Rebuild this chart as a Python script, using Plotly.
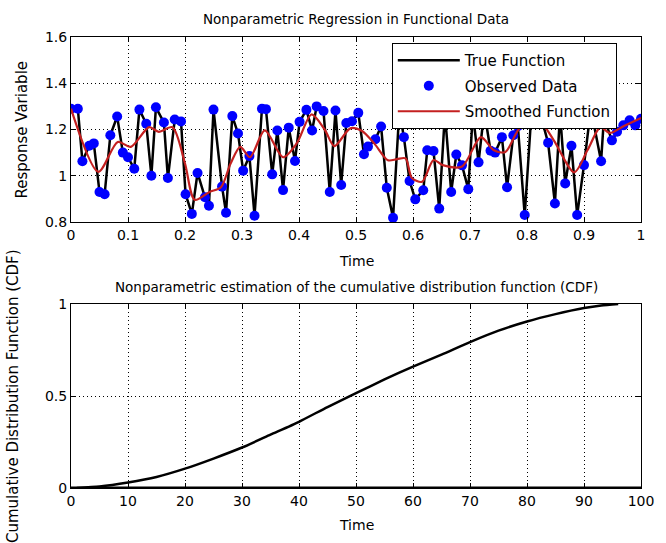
import plotly.graph_objects as go

# ---- Top panel: observed data / true function ----
x_obs = [0.000, 0.012, 0.020, 0.032, 0.040, 0.050, 0.059, 0.069, 0.081, 0.091,
         0.100, 0.111, 0.120, 0.132, 0.141, 0.149, 0.163, 0.170, 0.182, 0.193,
         0.201, 0.212, 0.222, 0.235, 0.242, 0.250, 0.265, 0.272, 0.283, 0.293,
         0.302, 0.313, 0.322, 0.335, 0.342, 0.353, 0.362, 0.372, 0.382, 0.393,
         0.401, 0.413, 0.423, 0.431, 0.443, 0.454, 0.464, 0.474, 0.483, 0.493,
         0.504, 0.514, 0.521, 0.534, 0.544, 0.554, 0.565, 0.576, 0.584, 0.594,
         0.604, 0.618, 0.625, 0.636, 0.646, 0.656, 0.667, 0.676, 0.686, 0.697,
         0.705, 0.715, 0.725, 0.736, 0.744, 0.756, 0.765, 0.776, 0.784, 0.796,
         0.808, 0.823, 0.837, 0.849, 0.858, 0.867, 0.878, 0.888, 0.900, 0.912,
         0.930, 0.935, 0.949, 0.958, 0.969, 0.980, 0.990, 1.000]
y_obs = [1.29, 1.29, 1.063, 1.13, 1.14, 0.93, 0.92, 1.175, 1.256, 1.10,
         1.08, 1.03, 1.286, 1.225, 1.00, 1.296, 1.23, 0.99, 1.243, 1.235,
         0.92, 0.835, 1.012, 0.907, 0.87, 1.286, 0.953, 0.84, 1.258, 1.183,
         1.022, 1.085, 0.827, 1.29, 1.288, 1.006, 1.196, 0.938, 1.208, 1.064,
         1.233, 1.285, 1.196, 1.30, 1.28, 0.93, 1.282, 0.96, 1.228, 1.236,
         1.272, 1.093, 1.126, 1.158, 1.213, 0.948, 0.818, 1.28, 1.167, 0.977,
         0.898, 0.937, 1.11, 1.107, 0.858, 1.27, 0.93, 1.092, 1.045, 0.942,
         1.27, 1.058, 1.28, 1.108, 1.10, 1.167, 0.95, 1.175, 1.214, 0.83,
         1.28, 1.27, 1.143, 0.88, 1.27, 0.967, 1.13, 0.83, 1.046, 1.29,
         1.063, 1.25, 1.153, 1.19, 1.218, 1.24, 1.218, 1.246]

# ---- Smoothed function ----
x_smooth = [0.0, 0.048, 0.082, 0.105, 0.137, 0.154, 0.178, 0.2, 0.217, 0.243,
            0.263, 0.28, 0.297, 0.314, 0.34, 0.372, 0.396, 0.422, 0.445, 0.462,
            0.49, 0.51, 0.532, 0.556, 0.572, 0.587, 0.598, 0.616, 0.636, 0.652,
            0.686, 0.719, 0.742, 0.762, 0.789, 0.825, 0.847, 0.883, 0.906, 0.929,
            0.945, 0.97, 1.0]
y_smooth = [1.29, 1.017, 1.146, 1.125, 1.21, 1.19, 1.21, 1.053, 0.896, 0.93,
            0.95, 1.053, 1.125, 1.08, 1.196, 1.08, 1.14, 1.265, 1.20, 1.128,
            1.205, 1.195, 1.14, 1.067, 1.072, 1.075, 0.99, 0.974, 1.068, 1.046,
            1.04, 1.167, 1.11, 1.103, 1.21, 1.225, 1.153, 1.015, 1.11, 1.21,
            1.185, 1.215, 1.25]

# ---- Bottom panel: CDF estimate ----
x_cdf = [1, 5, 10, 15, 20, 25, 30, 35, 40, 45, 50, 55, 60, 65, 70, 75, 80, 85, 90, 93, 96]
y_cdf = [0.0, 0.008, 0.03, 0.06, 0.105, 0.16, 0.22, 0.29, 0.36, 0.44, 0.515, 0.59,
         0.66, 0.725, 0.793, 0.855, 0.905, 0.945, 0.978, 0.992, 1.0]
x_base = [0, 100]
y_base = [0, 0]

top_xticks = [0, 0.1, 0.2, 0.3, 0.4, 0.5, 0.6, 0.7, 0.8, 0.9, 1]
top_yticks = [0.8, 1, 1.2, 1.4, 1.6]
bot_xticks = [0, 10, 20, 30, 40, 50, 60, 70, 80, 90, 100]
bot_yticks = [0, 0.5, 1]

FONT = "DejaVu Sans"

fig = go.Figure()
fig.add_trace(go.Scatter(x=x_obs, y=y_obs, mode="lines", name="True Function",
                         legendgroup="a",
                         line=dict(color="black", width=2.5), xaxis="x", yaxis="y"))
fig.add_trace(go.Scatter(x=x_obs, y=y_obs, mode="markers", name="Observed Data",
                         legendgroup="b",
                         marker=dict(color="#0000ff", size=10), xaxis="x", yaxis="y"))
fig.add_trace(go.Scatter(x=x_smooth, y=y_smooth, mode="lines", name="Smoothed Function",
                         legendgroup="c",
                         line=dict(color="#c42020", width=2.2, shape="spline", smoothing=0.8),
                         xaxis="x", yaxis="y"))
fig.add_trace(go.Scatter(x=x_cdf, y=y_cdf, mode="lines", showlegend=False,
                         line=dict(color="black", width=2.5, shape="spline", smoothing=0.6),
                         xaxis="x2", yaxis="y2"))
fig.add_trace(go.Scatter(x=x_base, y=y_base, mode="lines", showlegend=False,
                         line=dict(color="black", width=3), xaxis="x2", yaxis="y2"))

axis_common = dict(showline=True, linecolor="black", linewidth=1, mirror="ticks",
                   ticks="inside", ticklen=5, tickcolor="black",
                   showgrid=True, gridcolor="black", gridwidth=1, griddash="1px,3px",
                   zeroline=False, tickfont=dict(family=FONT, size=14, color="black"))

top_dom = [(488 - 222) / 451, 1.0]
bot_dom = [0.0, (488 - 304) / 451]

fig.update_layout(
    width=666, height=543,
    margin=dict(l=71, r=14, t=37, b=55),
    paper_bgcolor="white", plot_bgcolor="white",
    font=dict(family=FONT, size=13, color="black"),
    xaxis=dict(axis_common, domain=[0, 1], range=[0, 1], tickvals=top_xticks,
               ticktext=[str(v) for v in top_xticks], anchor="y"),
    yaxis=dict(axis_common, domain=top_dom, range=[0.8, 1.6], tickvals=top_yticks,
               ticktext=[str(v) for v in top_yticks], anchor="x"),
    xaxis2=dict(axis_common, domain=[0, 1], range=[0, 100], tickvals=bot_xticks, anchor="y2"),
    yaxis2=dict(axis_common, domain=bot_dom, range=[0, 1], tickvals=bot_yticks,
                ticktext=["0", "0.5", "1"], anchor="x2"),
    legend=dict(x=(398 - 71) / 581, y=(488 - 43) / 451, xanchor="left", yanchor="top",
                bgcolor="white", bordercolor="black", borderwidth=1,
                font=dict(family=FONT, size=15, color="black"),
                tracegroupgap=3, itemwidth=62),
    showlegend=True,
)

ann = [
    dict(text="Nonparametric Regression in Functional Data", xref="x domain", yref="y domain",
         x=0.5, y=1, yanchor="middle", yshift=18, showarrow=False, font=dict(size=13.5)),
    dict(text="Time", xref="x domain", yref="y domain", x=0.5, y=0, yanchor="middle",
         yshift=-39, showarrow=False, font=dict(size=14)),
    dict(text="Response Variable", xref="x domain", yref="y domain", x=0, y=0.5,
         xanchor="center", yanchor="middle", xshift=-50, textangle=-90, showarrow=False,
         font=dict(size=15)),
    dict(text="Nonparametric estimation of the cumulative distribution function (CDF)",
         xref="x2 domain", yref="y2 domain", x=0.5, y=1, yanchor="middle", yshift=17,
         showarrow=False, font=dict(size=13.5)),
    dict(text="Time", xref="x2 domain", yref="y2 domain", x=0.5, y=0, yanchor="middle",
         yshift=-37, showarrow=False, font=dict(size=14)),
    dict(text="Cumulative Distribution Function (CDF)", xref="x2 domain", yref="y2 domain",
         x=0, y=0.5, xanchor="center", yanchor="middle", xshift=-58, textangle=-90,
         showarrow=False, font=dict(size=15)),
]
fig.update_layout(annotations=ann)

fig.write_html("out.html")
